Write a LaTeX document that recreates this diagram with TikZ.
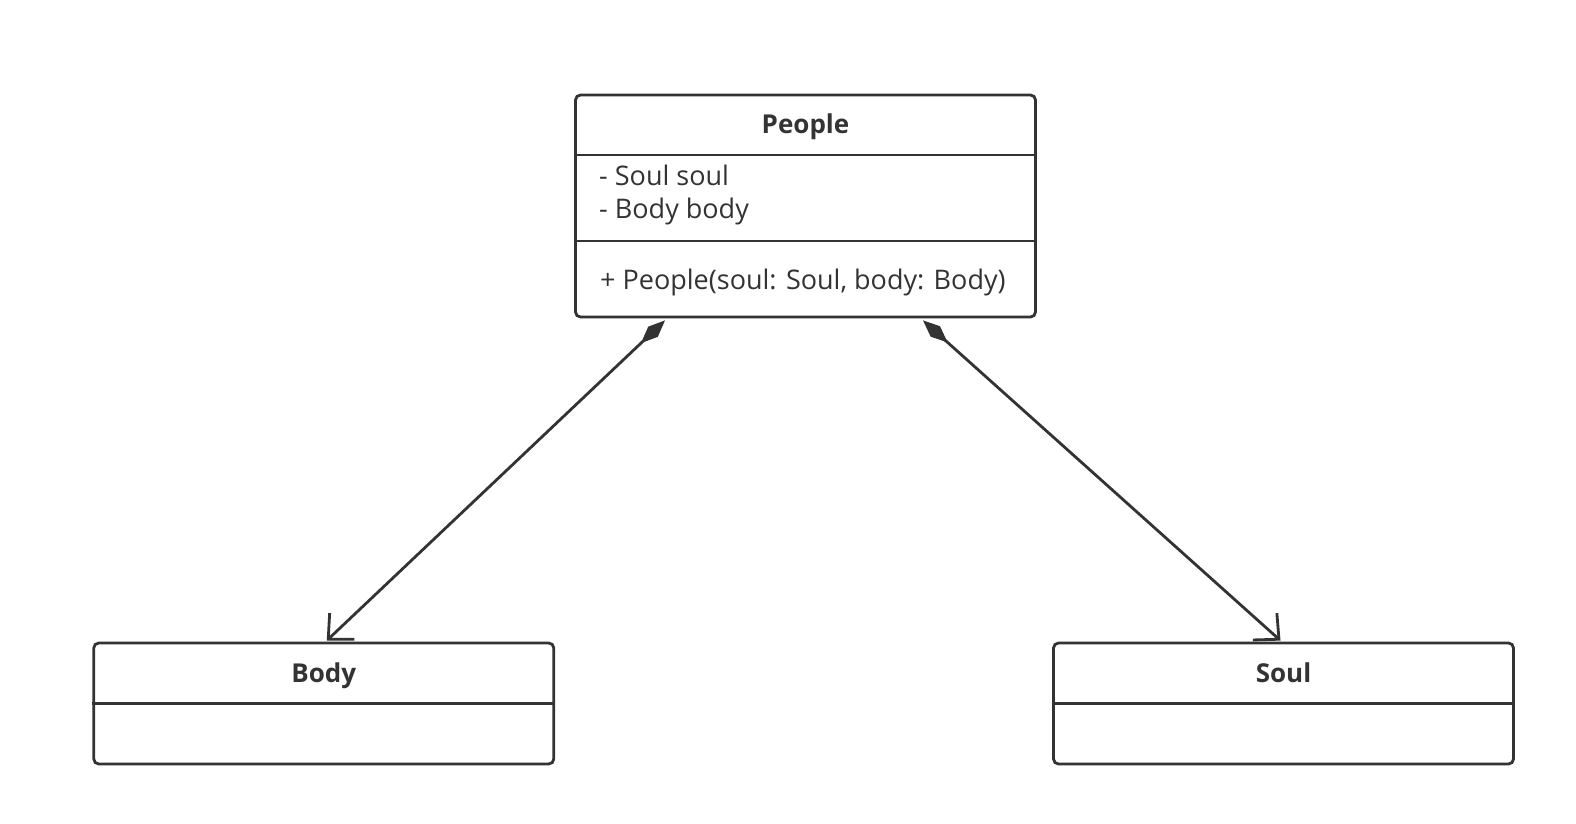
\documentclass[tikz,border=0pt]{standalone}
\usepackage{fontspec}
\setmainfont{Open Sans}
\usetikzlibrary{arrows.meta}
\definecolor{ink}{HTML}{333333}
\begin{document}
\begin{tikzpicture}[x=1pt,y=-1pt,
  umlbox/.style={draw=ink, line width=2.8pt, rounded corners=5pt, inner sep=0pt},
  umltitle/.style={font=\fontsize{26}{30}\selectfont\bfseries, text=ink, inner sep=0pt, anchor=base},
  umltext/.style={font=\fontsize{27}{30}\selectfont, text=ink, inner sep=0pt, anchor=base west},
  divider/.style={draw=ink, line width=2.8pt},
  comp/.style={draw=ink, line width=2.8pt, {Diamond[length=33pt,width=14pt,fill=ink]}-{Straight Barb[length=19pt,width=36pt,line width=2.8pt]}}
]
\useasboundingbox[fill=white] (0,0) rectangle (1576,824);
% People
\node[umlbox, minimum width=460pt, minimum height=222pt] (people) at (805.5,206) {};
\node[umltitle] (ptitle) at (805.5,134) {People};
\draw[divider] (people.west |- 0,155) -- (people.east |- 0,155);
\draw[divider] (people.west |- 0,241) -- (people.east |- 0,241);
\node[umltext] (pattr1) at (599,185) {- Soul soul};
\node[umltext] (pattr2) at (599,218) {- Body body};
\node[umltext] (pmeth) at (600,289) {+ People(soul: Soul, body: Body)};
% Body
\node[umlbox, minimum width=460pt, minimum height=121pt] (body) at (323.75,703.5) {};
\node[umltitle] (btitle) at (323.75,682) {Body};
\draw[divider] (body.west |- 0,703.5) -- (body.east |- 0,703.5);
% Soul
\node[umlbox, minimum width=460pt, minimum height=121pt] (soul) at (1283.5,703.5) {};
\node[umltitle] (stitle) at (1283.5,682) {Soul};
\draw[divider] (soul.west |- 0,703.5) -- (soul.east |- 0,703.5);
% connectors
\draw[comp] ([xshift=-140.5pt,yshift=-2pt]people.south) -- ([xshift=3pt,yshift=1pt]body.north);
\draw[comp] ([xshift=117.5pt,yshift=-2pt]people.south) -- ([xshift=-3pt,yshift=1pt]soul.north);
\end{tikzpicture}
\end{document}
